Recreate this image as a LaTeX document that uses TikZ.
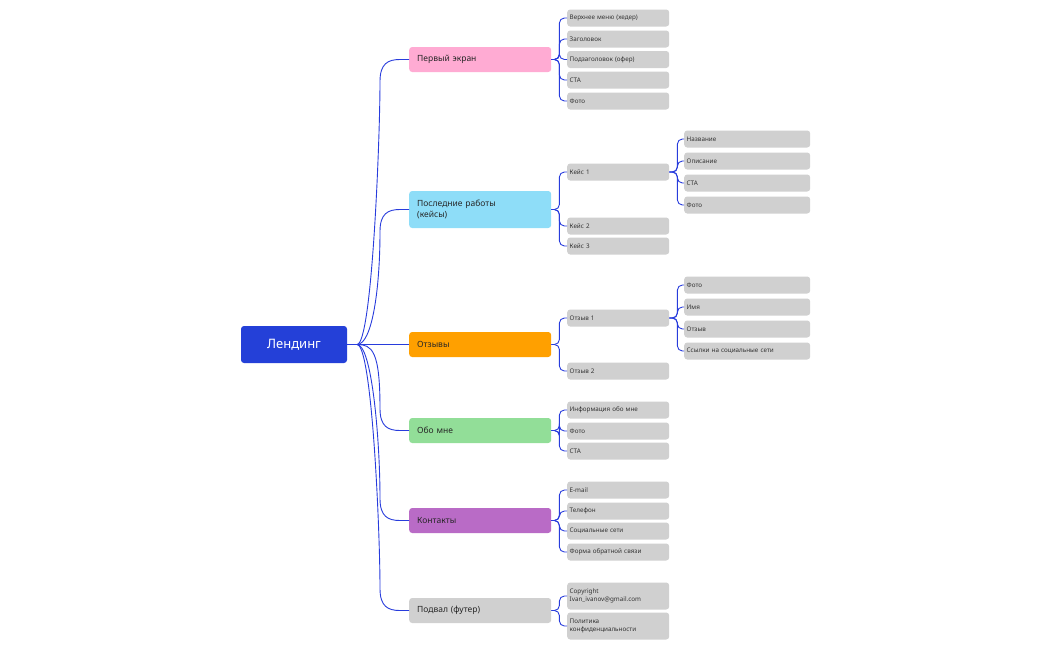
\documentclass[tikz,border=0pt]{standalone}
\usepackage{fontspec}
\usetikzlibrary{calc}
\setmainfont{Noto Sans}
\begin{document}
\begin{tikzpicture}[x=1pt,y=-1pt,
  con/.style={line width=0.9pt, draw={rgb,255:red,40;green,60;blue,220}},
  root/.style={fill={rgb,255:red,36;green,64;blue,216}, rounded corners=3pt, minimum width=106pt, minimum height=37pt, text=white, font=\bfseries\fontsize{13}{15}\selectfont, inner sep=0pt},
  lone/.style={rounded corners=3pt, minimum width=142pt, minimum height=25pt, anchor=west, text width=126pt, align=left, inner xsep=8pt, inner ysep=0pt, font=\fontsize{8.5}{11}\selectfont, text=black!85},
  ltwo/.style={fill={rgb,255:red,208;green,208;blue,208}, rounded corners=3pt, minimum width=101pt, minimum height=17pt, anchor=west, text width=97pt, align=left, inner xsep=2.5pt, inner ysep=0pt, font=\fontsize{6.3}{8}\selectfont, text=black!80},
  lthree/.style={ltwo, minimum width=125pt, text width=121pt},
  big/.style={ltwo, minimum height=27pt}]
\useasboundingbox (0,0) rectangle (1050,649);
\node[root] (R) at (294,344.5) {Лендинг};
\node[lone, fill={rgb,255:red,255;green,171;blue,211}] (A) at (409,59.5) {Первый экран};
\node[lone, fill={rgb,255:red,142;green,221;blue,248}, minimum height=37pt] (B) at (409,209.5) {Последние работы\\(кейсы)};
\node[lone, fill={rgb,255:red,255;green,160;blue,0}] (C) at (409,344.5) {Отзывы};
\node[lone, fill={rgb,255:red,146;green,222;blue,152}] (D) at (409,430.5) {Обо мне};
\node[lone, fill={rgb,255:red,185;green,107;blue,198}] (E) at (409,520.5) {Контакты};
\node[lone, fill={rgb,255:red,208;green,208;blue,208}] (F) at (409,610.5) {Подвал (футер)};
% root connectors
\foreach \n/\y in {A/59.5,B/209.5,D/430.5,E/520.5,F/610.5}{
  \pgfmathsetmacro\s{\y<344.5 ? 1 : -1}
  \draw[con] (R.east) -- (357,344.5) .. controls (372,344.5) and (380,\y+\s*80) .. (380,\y+\s*22) .. controls (380,\y+\s*4) and (388,\y) .. (400,\y) -- (\n.west);
}
\draw[con] (R.east) -- (C.west);
% level 2
\node[ltwo] (A1) at (567,18) {Верхнее меню (хедер)};
\node[ltwo] (A2) at (567,39) {Заголовок};
\node[ltwo] (A3) at (567,59.5) {Подзаголовок (офер)};
\node[ltwo] (A4) at (567,80) {CTA};
\node[ltwo] (A5) at (567,101) {Фото};
\node[ltwo] (B1) at (567,172) {Кейс 1};
\node[ltwo] (B2) at (567,226) {Кейс 2};
\node[ltwo] (B3) at (567,246) {Кейс 3};
\node[ltwo] (C1) at (567,318) {Отзыв 1};
\node[ltwo] (C2) at (567,371) {Отзыв 2};
\node[ltwo] (D1) at (567,410) {Информация обо мне};
\node[ltwo] (D2) at (567,431) {Фото};
\node[ltwo] (D3) at (567,451) {CTA};
\node[ltwo] (E1) at (567,490) {E-mail};
\node[ltwo] (E2) at (567,511) {Телефон};
\node[ltwo] (E3) at (567,531) {Социальные сети};
\node[ltwo] (E4) at (567,552) {Форма обратной связи};
\node[big] (F1) at (567,596) {Copyright\\Ivan\_ivanov@gmail.com};
\node[big] (F2) at (567,626) {Политика\\конфиденциальности};
% level 3
\node[lthree] (B11) at (684,139) {Название};
\node[lthree] (B12) at (684,161) {Описание};
\node[lthree] (B13) at (684,183) {CTA};
\node[lthree] (B14) at (684,205) {Фото};
\node[lthree] (C11) at (684,285) {Фото};
\node[lthree] (C12) at (684,307) {Имя};
\node[lthree] (C13) at (684,329) {Отзыв};
\node[lthree] (C14) at (684,351) {Ссылки на социальные сети};
% bracket connectors
\foreach \p/\cs in {A/{A1,A2,A3,A4,A5},B/{B1,B2,B3},C/{C1,C2},D/{D1,D2,D3},E/{E1,E2,E3,E4},F/{F1,F2},B1/{B11,B12,B13,B14},C1/{C11,C12,C13,C14}}{
  \foreach \c in \cs {
    \draw[con, rounded corners=5pt] (\p.east) -- ($(\p.east)+(8,0)$) |- (\c.west);
  }
}
\end{tikzpicture}
\end{document}
